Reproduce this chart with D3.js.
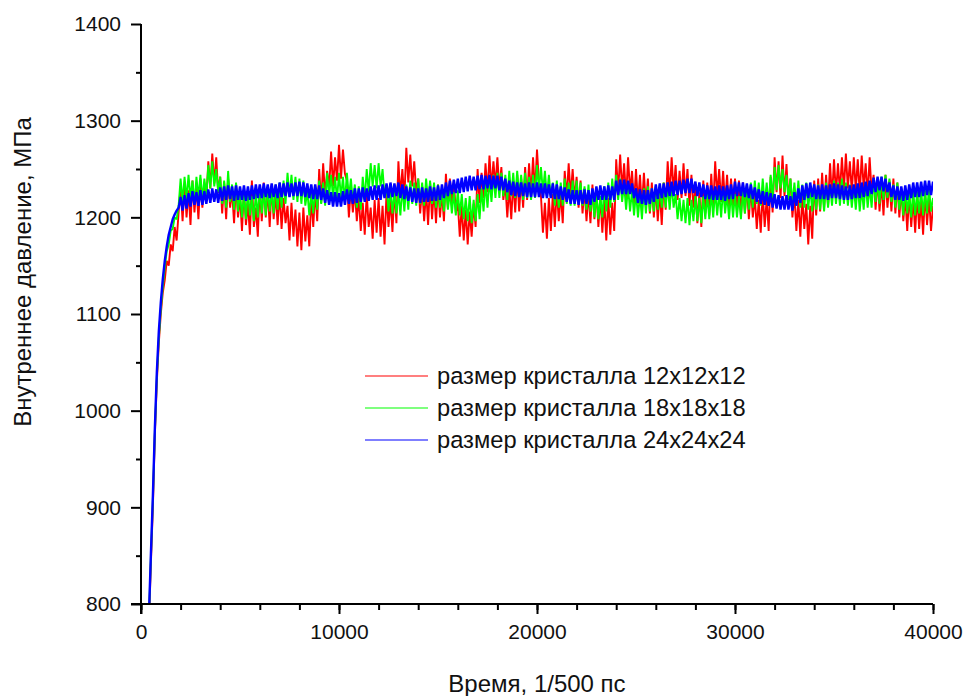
<!DOCTYPE html>
<html>
<head>
<meta charset="utf-8">
<script src="https://cdn.jsdelivr.net/npm/d3@7"></script>
<style>
  body { margin: 0; background: #fff; }
  text { font-family: Arial, "Liberation Sans", sans-serif; fill: #111; }
</style>
</head>
<body>
<svg id="chart" width="969" height="696"></svg>
<script>
// Время, шаг 100 (1/500 пс)
const times = d3.range(400, 40001, 100);

// размер кристалла 12x12x12
const red = [
  780, 842, 900, 975, 1030, 1070, 1100, 1122, 1135, 1155, 1150, 1172, 1165, 1190, 1176, 1205,
  1232, 1196, 1235, 1200, 1228, 1192, 1238, 1205, 1232, 1198, 1240, 1210, 1236, 1218, 1258, 1230, 1266, 1235, 1262, 1225,
  1242, 1204, 1236, 1198, 1240, 1210, 1228, 1194, 1235, 1200, 1222, 1186, 1230, 1192, 1215, 1182, 1238, 1190, 1210, 1180,
  1232, 1196, 1236, 1200, 1228, 1190, 1234, 1198, 1225, 1192, 1226, 1188, 1220, 1194, 1212, 1176, 1215, 1180, 1208, 1170,
  1205, 1166, 1210, 1175, 1202, 1170, 1222, 1190, 1228, 1196, 1250, 1215, 1256, 1222, 1248, 1230, 1268, 1232, 1262, 1238,
  1275, 1240, 1270, 1245, 1238, 1200, 1232, 1205, 1228, 1196, 1222, 1186, 1215, 1182, 1225, 1190, 1210, 1178, 1218, 1184,
  1220, 1180, 1212, 1172, 1226, 1190, 1218, 1185, 1230, 1194, 1258, 1222, 1250, 1218, 1272, 1236, 1265, 1232, 1258, 1225,
  1240, 1204, 1232, 1196, 1228, 1192, 1236, 1198, 1230, 1194, 1234, 1200, 1226, 1196, 1245, 1210, 1240, 1212, 1238, 1205,
  1215, 1180, 1212, 1176, 1208, 1172, 1206, 1180, 1214, 1190, 1250, 1215, 1246, 1220, 1256, 1226, 1264, 1230, 1258, 1232,
  1262, 1228, 1252, 1218, 1235, 1200, 1232, 1198, 1238, 1205, 1244, 1206, 1240, 1210, 1252, 1218, 1256, 1222, 1262, 1226,
  1270, 1236, 1222, 1184, 1215, 1178, 1220, 1186, 1224, 1190, 1230, 1196, 1226, 1194, 1248, 1220, 1256, 1222, 1250, 1218,
  1242, 1210, 1238, 1204, 1230, 1196, 1226, 1194, 1234, 1198, 1228, 1190, 1222, 1184, 1218, 1176, 1220, 1182, 1215, 1186,
  1260, 1226, 1265, 1228, 1256, 1220, 1262, 1226, 1248, 1214, 1250, 1214, 1244, 1210, 1246, 1212, 1240, 1204, 1236, 1200,
  1232, 1196, 1228, 1192, 1236, 1208, 1258, 1222, 1262, 1226, 1254, 1218, 1248, 1220, 1256, 1222, 1250, 1212, 1244, 1210,
  1230, 1194, 1226, 1190, 1238, 1204, 1236, 1202, 1245, 1210, 1258, 1222, 1250, 1216, 1248, 1214, 1244, 1208, 1240, 1212,
  1240, 1206, 1238, 1202, 1236, 1204, 1234, 1198, 1232, 1200, 1222, 1188, 1218, 1184, 1226, 1190, 1220, 1186, 1242, 1205,
  1262, 1226, 1258, 1220, 1264, 1222, 1255, 1218, 1240, 1200, 1225, 1186, 1218, 1180, 1222, 1188, 1214, 1172, 1212, 1178,
  1238, 1202, 1240, 1206, 1246, 1210, 1244, 1212, 1256, 1220, 1260, 1224, 1256, 1226, 1262, 1228, 1266, 1230, 1258, 1226,
  1262, 1228, 1260, 1224, 1264, 1230, 1256, 1222, 1262, 1226, 1244, 1208, 1240, 1206, 1236, 1202, 1244, 1210, 1238, 1206,
  1240, 1204, 1236, 1200, 1230, 1196, 1222, 1186, 1225, 1190, 1220, 1184, 1224, 1188, 1218, 1182, 1226, 1192, 1222, 1186,
  1212
];

// размер кристалла 18x18x18
const green = [
  785, 848, 908, 978, 1035, 1075, 1105, 1128, 1148, 1165, 1172, 1186, 1188, 1200, 1198, 1212,
  1240, 1216, 1242, 1218, 1244, 1220, 1238, 1214, 1242, 1220, 1244, 1218, 1240, 1222, 1254, 1230, 1258, 1232, 1250, 1226,
  1242, 1214, 1238, 1210, 1248, 1216, 1234, 1208, 1236, 1206, 1226, 1200, 1224, 1198, 1228, 1202, 1222, 1196, 1226, 1200,
  1230, 1204, 1228, 1202, 1232, 1206, 1228, 1204, 1234, 1208, 1236, 1210, 1238, 1214, 1246, 1222, 1244, 1218, 1242, 1216,
  1240, 1214, 1238, 1212, 1228, 1202, 1226, 1204, 1232, 1208, 1238, 1214, 1236, 1212, 1246, 1222, 1244, 1220, 1242, 1218,
  1246, 1220, 1242, 1216, 1246, 1220, 1240, 1216, 1234, 1210, 1232, 1208, 1242, 1218, 1250, 1226, 1256, 1232, 1254, 1230,
  1256, 1232, 1250, 1222, 1232, 1206, 1230, 1204, 1228, 1204, 1226, 1202, 1232, 1206, 1234, 1208, 1238, 1214, 1236, 1212,
  1240, 1214, 1236, 1212, 1240, 1216, 1238, 1214, 1236, 1210, 1234, 1210, 1230, 1206, 1232, 1208, 1228, 1204, 1226, 1202,
  1228, 1202, 1224, 1198, 1220, 1196, 1222, 1194, 1218, 1196, 1224, 1198, 1230, 1206, 1236, 1210, 1240, 1216, 1244, 1220,
  1246, 1220, 1246, 1222, 1244, 1218, 1248, 1222, 1246, 1220, 1248, 1222, 1244, 1218, 1246, 1220, 1242, 1218, 1244, 1220,
  1254, 1228, 1252, 1226, 1248, 1222, 1244, 1220, 1236, 1212, 1238, 1210, 1236, 1212, 1240, 1214, 1236, 1212, 1238, 1212,
  1238, 1214, 1236, 1212, 1232, 1208, 1234, 1206, 1226, 1200, 1224, 1198, 1222, 1200, 1232, 1206, 1236, 1210, 1240, 1216,
  1244, 1218, 1240, 1216, 1234, 1208, 1232, 1206, 1228, 1202, 1226, 1200, 1224, 1198, 1230, 1204, 1232, 1206, 1230, 1206,
  1232, 1208, 1234, 1210, 1236, 1210, 1234, 1208, 1234, 1210, 1224, 1198, 1220, 1196, 1218, 1194, 1220, 1192, 1218, 1196,
  1222, 1196, 1220, 1194, 1222, 1198, 1224, 1198, 1226, 1200, 1228, 1202, 1226, 1200, 1230, 1204, 1224, 1198, 1226, 1200,
  1224, 1200, 1222, 1198, 1228, 1204, 1234, 1208, 1236, 1210, 1238, 1214, 1236, 1212, 1240, 1214, 1236, 1212, 1244, 1220,
  1252, 1228, 1254, 1230, 1250, 1226, 1244, 1218, 1240, 1214, 1236, 1212, 1238, 1210, 1234, 1210, 1236, 1208, 1232, 1206,
  1232, 1208, 1234, 1208, 1230, 1206, 1236, 1210, 1234, 1212, 1238, 1214, 1236, 1212, 1240, 1214, 1236, 1212, 1234, 1210,
  1232, 1208, 1234, 1206, 1230, 1208, 1236, 1210, 1232, 1210, 1240, 1216, 1238, 1214, 1242, 1218, 1244, 1220, 1240, 1216,
  1234, 1210, 1236, 1208, 1228, 1202, 1230, 1204, 1226, 1200, 1228, 1202, 1226, 1204, 1230, 1202, 1228, 1204, 1232, 1206,
  1220
];

// размер кристалла 24x24x24
const blue = [
  788, 852, 912, 982, 1040, 1082, 1112, 1136, 1155, 1170, 1182, 1190, 1198, 1203, 1207, 1210,
  1221, 1207, 1223, 1209, 1225, 1211, 1227, 1213, 1226, 1212, 1228, 1213, 1227, 1214, 1229, 1215, 1230, 1216, 1229, 1215,
  1231, 1217, 1232, 1218, 1233, 1219, 1232, 1217, 1233, 1218, 1232, 1218, 1233, 1217, 1232, 1218, 1233, 1219, 1234, 1220,
  1234, 1220, 1235, 1221, 1234, 1220, 1235, 1221, 1234, 1220, 1236, 1221, 1235, 1222, 1236, 1221, 1235, 1222, 1236, 1222,
  1237, 1222, 1236, 1221, 1235, 1220, 1234, 1219, 1234, 1219, 1233, 1218, 1230, 1215, 1228, 1213, 1226, 1211, 1226, 1211,
  1225, 1211, 1227, 1213, 1229, 1214, 1228, 1214, 1230, 1215, 1230, 1216, 1231, 1216, 1230, 1217, 1232, 1218, 1233, 1218,
  1233, 1218, 1234, 1220, 1235, 1220, 1236, 1221, 1235, 1222, 1236, 1220, 1234, 1219, 1232, 1217, 1231, 1216, 1230, 1215,
  1230, 1215, 1231, 1216, 1230, 1216, 1232, 1217, 1231, 1217, 1233, 1218, 1234, 1220, 1236, 1222, 1238, 1224, 1239, 1225,
  1240, 1225, 1241, 1226, 1242, 1227, 1243, 1228, 1242, 1228, 1243, 1229, 1244, 1229, 1243, 1230, 1244, 1229, 1243, 1230,
  1243, 1228, 1242, 1228, 1240, 1226, 1238, 1223, 1237, 1222, 1236, 1221, 1236, 1222, 1235, 1221, 1236, 1221, 1235, 1221,
  1236, 1221, 1235, 1220, 1235, 1220, 1234, 1220, 1235, 1219, 1234, 1219, 1232, 1218, 1231, 1216, 1229, 1214, 1228, 1214,
  1228, 1213, 1228, 1214, 1229, 1214, 1228, 1213, 1230, 1216, 1232, 1218, 1233, 1218, 1232, 1218, 1233, 1218, 1232, 1218,
  1238, 1223, 1239, 1224, 1239, 1224, 1238, 1224, 1235, 1220, 1230, 1215, 1229, 1214, 1228, 1213, 1228, 1214, 1230, 1216,
  1234, 1219, 1235, 1220, 1235, 1221, 1236, 1222, 1237, 1222, 1238, 1223, 1238, 1224, 1239, 1225, 1240, 1225, 1240, 1225,
  1237, 1222, 1236, 1221, 1234, 1219, 1233, 1219, 1233, 1218, 1232, 1218, 1233, 1218, 1232, 1217, 1233, 1219, 1234, 1219,
  1237, 1222, 1236, 1222, 1236, 1221, 1235, 1220, 1234, 1219, 1231, 1216, 1229, 1214, 1227, 1213, 1226, 1212, 1225, 1210,
  1224, 1209, 1223, 1208, 1222, 1208, 1223, 1208, 1222, 1207, 1226, 1212, 1230, 1215, 1233, 1218, 1235, 1220, 1236, 1221,
  1234, 1219, 1233, 1219, 1234, 1219, 1233, 1218, 1234, 1220, 1235, 1220, 1234, 1219, 1233, 1218, 1232, 1218, 1233, 1219,
  1234, 1220, 1235, 1220, 1236, 1221, 1237, 1222, 1238, 1224, 1241, 1226, 1242, 1228, 1242, 1227, 1240, 1226, 1236, 1221,
  1233, 1218, 1232, 1218, 1232, 1217, 1233, 1218, 1234, 1220, 1236, 1221, 1236, 1221, 1237, 1222, 1238, 1223, 1238, 1223,
  1237
];

const seriesNames = ["размер кристалла 12x12x12", "размер кристалла 18x18x18", "размер кристалла 24x24x24"];
const seriesColors = ["#ff0000", "#00ff00", "#0000ff"];
const xTicks = [0, 10000, 20000, 30000, 40000];
const yTicks = [800, 900, 1000, 1100, 1200, 1300, 1400];

const width = 969, height = 696;
const margin = { top: 24, right: 36, bottom: 92, left: 141 };

const svg = d3.select("#chart");

const x = d3.scaleLinear([0, 40000], [margin.left, width - margin.right]);
const y = d3.scaleLinear([800, 1400], [height - margin.bottom, margin.top]);

svg.append("defs").append("clipPath").attr("id", "clip")
  .append("rect")
  .attr("x", margin.left).attr("y", margin.top)
  .attr("width", width - margin.left - margin.right)
  .attr("height", height - margin.top - margin.bottom);

// линии
const line = d3.line().x((d, i) => x(times[i])).y(d => y(d));
const plot = svg.append("g").attr("clip-path", "url(#clip)");
[red, green, blue].forEach((values, i) => {
  plot.append("path")
    .datum(values)
    .attr("fill", "none")
    .attr("stroke", seriesColors[i])
    .attr("stroke-width", i === 2 ? 2.4 : 1.9)
    .attr("stroke-linejoin", "bevel")
    .attr("d", line);
});

// оси
const fontSize = "21px";

const gx = svg.append("g").attr("transform", `translate(0,${y(800)})`);
gx.call(d3.axisBottom(x).tickValues(d3.range(0, 40001, 2000)).tickSize(6).tickFormat(""));
gx.selectAll(".tick line").attr("stroke-width", 2);
const gxMaj = svg.append("g").attr("transform", `translate(0,${y(800)})`);
gxMaj.call(d3.axisBottom(x).tickValues(xTicks).tickSize(10).tickPadding(10).tickFormat(d3.format("d")));
gxMaj.selectAll(".tick line").attr("stroke-width", 2);
gxMaj.selectAll(".tick text").style("font-size", fontSize).attr("fill", "#111");

const gy = svg.append("g").attr("transform", `translate(${x(0)},0)`);
gy.call(d3.axisLeft(y).tickValues(d3.range(850, 1400, 100)).tickSize(5).tickFormat(""));
gy.selectAll(".tick line").attr("stroke-width", 2);
const gyMaj = svg.append("g").attr("transform", `translate(${x(0)},0)`);
gyMaj.call(d3.axisLeft(y).tickValues(yTicks).tickSize(10).tickPadding(10).tickFormat(d3.format("d")));
gyMaj.selectAll(".tick line").attr("stroke-width", 2);
gyMaj.selectAll(".tick text").style("font-size", fontSize).attr("fill", "#111");
svg.selectAll(".domain").remove();

svg.append("line")
  .attr("x1", x(0) - 10).attr("x2", x(40000))
  .attr("y1", y(800)).attr("y2", y(800))
  .attr("stroke", "#000").attr("stroke-width", 2);
svg.append("line")
  .attr("x1", x(0)).attr("x2", x(0))
  .attr("y1", y(1400)).attr("y2", y(800) + 10)
  .attr("stroke", "#000").attr("stroke-width", 2);

svg.append("text")
  .attr("x", (x(0) + x(40000)) / 2)
  .attr("y", 692)
  .attr("text-anchor", "middle")
  .style("font-size", "24px")
  .text("Время, 1/500 пс");

svg.append("text")
  .attr("transform", `translate(31,${y(1100) - 42}) rotate(-90)`)
  .attr("text-anchor", "middle")
  .style("font-size", "24px")
  .text("Внутреннее давление, МПа");

// легенда
const legend = svg.append("g");
seriesNames.forEach((name, i) => {
  const ly = 376 + i * 32;
  legend.append("line")
    .attr("x1", 365).attr("x2", 428)
    .attr("y1", ly).attr("y2", ly)
    .attr("stroke", seriesColors[i]).attr("stroke-width", 1.2);
  legend.append("text")
    .attr("x", 437).attr("y", ly)
    .attr("dy", "0.35em")
    .style("font-size", "23.7px")
    .text(name);
});
</script>
</body>
</html>
